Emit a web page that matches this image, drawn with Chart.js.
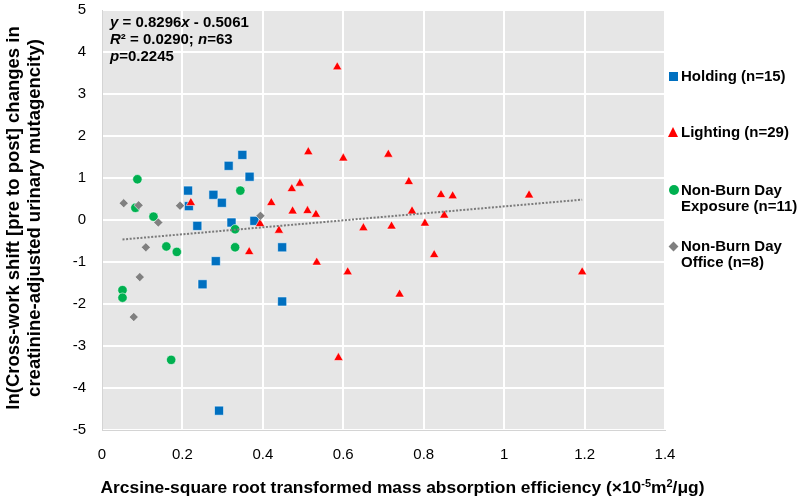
<!DOCTYPE html>
<html>
<head>
<meta charset="utf-8">
<script src="https://cdn.jsdelivr.net/npm/chart.js@4"></script>
<style>
  html, body { margin: 0; padding: 0; background: #fff; }
  #wrap { position: relative; width: 800px; height: 498px; font-family: "Liberation Sans", Arial, sans-serif; overflow: hidden; }
  #note { position: absolute; left: 110px; top: 13px; font-weight: bold; font-size: 15px; line-height: 17px; color: #000; }
  #legend { position: absolute; left: 668px; top: 0; font-weight: bold; font-size: 15px; line-height: 16px; color: #000; }
  .item { position: absolute; left: 13px; white-space: nowrap; }
  .mk { position: absolute; }
  #xtitle { position: absolute; left: 0; width: 805px; top: 475px; height: 24px; line-height: 24px; text-align: center; font-weight: bold; font-size: 17.4px; color: #000; white-space: nowrap; }
  #xtitle sup { font-size: 11px; line-height: 0; vertical-align: 6px; }
  #ytitle { position: absolute; left: -197.5px; top: 196.5px; width: 440px; height: 42px; line-height: 21px; text-align: center; font-weight: bold; font-size: 18.5px; color: #000; white-space: nowrap; transform: rotate(-90deg); transform-origin: 50% 50%; }
</style>
</head>
<body>
<div id="wrap">
  <canvas id="c" width="800" height="498"></canvas>
  <div id="note"></div>
  <div id="legend"></div>
  <div id="xtitle"></div>
  <div id="ytitle"></div>
</div>
<script>
// ---- data ----
const holdingX = [0.349, 0.315, 0.367, 0.214, 0.277, 0.298, 0.216, 0.237, 0.322, 0.379, 0.448, 0.283, 0.250, 0.448, 0.291];
const holdingY = [1.55, 1.29, 1.03, 0.70, 0.60, 0.41, 0.33, -0.14, -0.06, -0.02, -0.65, -0.98, -1.53, -1.94, -4.54];

const lightingX = [0.585, 0.513, 0.600, 0.492, 0.472, 0.421, 0.221, 0.474, 0.511, 0.532, 0.393, 0.650, 0.440, 0.366, 0.534, 0.611, 0.588, 0.712, 0.763, 0.843, 0.872, 1.062, 0.771, 0.851, 0.803, 0.720, 0.826, 1.194, 0.740];
const lightingY = [3.64, 1.62, 1.47, 0.87, 0.74, 0.41, 0.41, 0.21, 0.22, 0.13, -0.09, -0.19, -0.25, -0.76, -1.01, -1.24, -3.28, 1.56, 0.91, 0.60, 0.57, 0.59, 0.21, 0.11, -0.08, -0.15, -0.83, -1.24, -1.77];

const exposureX = [0.088, 0.344, 0.083, 0.128, 0.331, 0.160, 0.186, 0.331, 0.051, 0.051, 0.172];
const exposureY = [0.97, 0.70, 0.29, 0.08, -0.22, -0.63, -0.76, -0.65, -1.67, -1.85, -3.33];

const officeX = [0.054, 0.091, 0.194, 0.140, 0.394, 0.109, 0.094, 0.079];
const officeY = [0.40, 0.35, 0.34, -0.06, 0.10, -0.65, -1.36, -2.31];

const seriesNames = [["Holding (n=15)"], ["Lighting (n=29)"], ["Non-Burn Day", "Exposure (n=11)"], ["Non-Burn Day", "Office (n=8)"]];
const seriesColors = ["#0070C0", "#FF0000", "#00B050", "#808080"];

const trendSlope = 0.8296;
const trendIntercept = -0.5061;
const statsLines = ["<i>y</i> = 0.8296<i>x</i> - 0.5061", "<i>R</i>² = 0.0290; <i>n</i>=63", "<i>p</i>=0.2245"];

const xTickLabels = ["0", "0.2", "0.4", "0.6", "0.8", "1", "1.2", "1.4"];
const yTickLabels = ["-5", "-4", "-3", "-2", "-1", "0", "1", "2", "3", "4", "5"];

const xTitle = "Arcsine-square root transformed mass absorption efficiency (×10<sup>-5</sup>m<sup>2</sup>/μg)";
const yTitle = ["ln(Cross-work shift [pre to post] changes in", "creatinine-adjusted urinary mutagencity)"];

// ---- build ----
const pts = (xs, ys) => xs.map((x, i) => ({ x: x, y: ys[i] }));
const allX = [].concat(holdingX, lightingX, exposureX, officeX);
const xMin = Math.min.apply(null, allX), xMax = Math.max.apply(null, allX);
const trendPts = [{ x: xMin, y: trendSlope * xMin + trendIntercept }, { x: xMax, y: trendSlope * xMax + trendIntercept }];

const bgPlugin = {
  id: 'plotBg',
  beforeDraw(chart) {
    const a = chart.chartArea, ctx = chart.ctx;
    ctx.save();
    ctx.fillStyle = '#E6E6E6';
    ctx.fillRect(a.left, a.top, a.right - a.left, a.bottom - a.top);
    ctx.restore();
  }
};

const FONT = '"Liberation Sans", Arial, sans-serif';

new Chart(document.getElementById('c'), {
  type: 'scatter',
  data: {
    datasets: [
      { label: 'trend', type: 'line', data: trendPts, borderColor: '#7A7A7A', borderWidth: 2, borderDash: [2, 1.6], pointRadius: 0, fill: false, order: 1 },
      { label: seriesNames[3].join(' '), data: pts(officeX, officeY), pointStyle: 'rectRot', pointRadius: 4.6, backgroundColor: seriesColors[3], borderColor: 'rgba(255,255,255,0.7)', borderWidth: 0.8, order: 2 },
      { label: seriesNames[2].join(' '), data: pts(exposureX, exposureY), pointStyle: 'circle', pointRadius: 4.7, backgroundColor: seriesColors[2], borderColor: 'rgba(255,255,255,0.7)', borderWidth: 0.8, order: 3 },
      { label: seriesNames[1].join(' '), data: pts(lightingX, lightingY), pointStyle: 'triangle', pointRadius: 5.4, backgroundColor: seriesColors[1], borderColor: 'rgba(255,255,255,0.7)', borderWidth: 0.8, order: 4 },
      { label: seriesNames[0].join(' '), data: pts(holdingX, holdingY), pointStyle: 'rect', pointRadius: 6.4, backgroundColor: seriesColors[0], borderColor: 'rgba(255,255,255,0.7)', borderWidth: 0.8, order: 5 }
    ]
  },
  options: {
    responsive: false,
    animation: false,
    events: [],
    layout: { padding: { left: 0, right: 135, top: 10, bottom: 0 } },
    plugins: { legend: { display: false }, tooltip: { enabled: false } },
    scales: {
      x: {
        type: 'linear', min: 0, max: 1.4,
        afterFit(s) { s.height = 68; s.paddingLeft = 0; s.paddingRight = 0; },
        afterBuildTicks(s) { s.ticks = xTickLabels.map(t => ({ value: parseFloat(t) })); },
        ticks: { callback: (v, i) => xTickLabels[i], font: { family: FONT, size: 15 }, color: '#000', padding: 16, maxRotation: 0 },
        grid: { color: '#FFFFFF', lineWidth: 2, drawTicks: false },
        border: { display: true, color: '#D4D4D4', width: 1 },
        title: { display: false }
      },
      y: {
        type: 'linear', min: -5, max: 5,
        afterFit(s) { s.width = 102; s.paddingTop = 0; s.paddingBottom = 0; },
        afterBuildTicks(s) { s.ticks = yTickLabels.map(t => ({ value: parseFloat(t) })); },
        ticks: { callback: (v, i) => yTickLabels[i], font: { family: FONT, size: 15 }, color: '#000', padding: 16 },
        grid: { color: '#FFFFFF', lineWidth: 2, drawTicks: false },
        border: { display: true, color: '#D4D4D4', width: 1 },
        title: { display: false }
      }
    }
  },
  plugins: [bgPlugin]
});

// axis titles (html text)
document.getElementById('xtitle').innerHTML = xTitle;
document.getElementById('ytitle').innerHTML = yTitle.join('<br>');

// stats note
document.getElementById('note').innerHTML = statsLines.join('<br>');

// legend (html)
const legendTops = [68, 124, 182, 238];
const lg = document.getElementById('legend');
seriesNames.forEach((name, i) => {
  const it = document.createElement('div');
  it.className = 'item';
  it.style.top = legendTops[i] + 'px';
  it.innerHTML = name.join('<br>');
  lg.appendChild(it);
  const mk = document.createElement('div');
  mk.className = 'mk';
  const cy = legendTops[i] + 8;
  const c = seriesColors[i];
  if (i === 0) { Object.assign(mk.style, { left: '1px', top: (cy - 4.5) + 'px', width: '9px', height: '9px', background: c }); }
  if (i === 1) { Object.assign(mk.style, { left: '0px', top: (cy - 5) + 'px', width: '0', height: '0', borderLeft: '5.5px solid transparent', borderRight: '5.5px solid transparent', borderBottom: '10px solid ' + c }); }
  if (i === 2) { Object.assign(mk.style, { left: '0.5px', top: (cy - 5) + 'px', width: '10px', height: '10px', borderRadius: '50%', background: c }); }
  if (i === 3) { Object.assign(mk.style, { left: '1.5px', top: (cy - 3.5) + 'px', width: '7px', height: '7px', background: c, transform: 'rotate(45deg)' }); }
  lg.appendChild(mk);
});
</script>
</body>
</html>
